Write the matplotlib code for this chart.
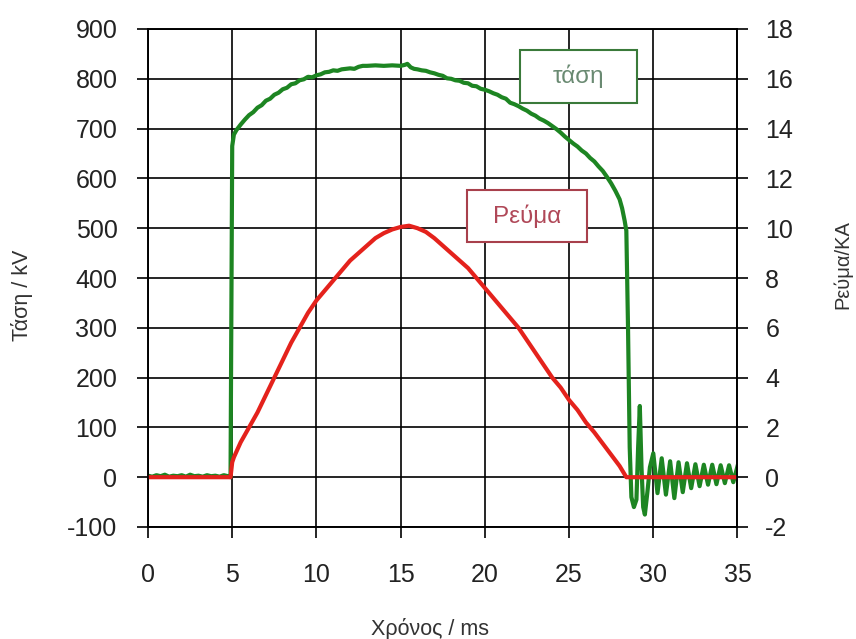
import matplotlib.pyplot as plt
from matplotlib.patches import Rectangle

plt.rcParams['font.family'] = ['Liberation Sans', 'DejaVu Sans']
plt.rcParams['axes.unicode_minus'] = False

# voltage trace, kV
t_v = [0, 0.25, 0.5, 0.75, 1, 1.25, 1.5, 1.75, 2, 2.25, 2.5, 2.75, 3, 3.25, 3.5, 3.75, 4, 4.25, 4.5, 4.75,
       4.9, 4.95, 5.0, 5.1, 5.25, 5.5, 5.75, 6.0, 6.25, 6.5, 6.75, 7.0, 7.25, 7.5, 7.75, 8.0, 8.25, 8.5, 8.75,
       9.0, 9.25, 9.5, 9.75, 10.0, 10.25, 10.5, 10.75, 11.0, 11.25, 11.5, 11.75, 12.0, 12.25, 12.5, 12.75,
       13.0, 13.5, 14.0, 14.5, 15.0, 15.25, 15.4, 15.6, 15.8, 16.0, 16.25, 16.5, 16.75, 17.0, 17.25, 17.5,
       17.75, 18.0, 18.25, 18.5, 18.75, 19.0, 19.25, 19.5, 19.75, 20.0, 20.25, 20.5, 20.75, 21.0, 21.25,
       21.5, 21.75, 22.0, 22.25, 22.5, 22.75, 23.0, 23.25, 23.5, 23.75, 24.0, 24.25, 24.5, 24.75, 25.0,
       25.25, 25.5, 25.75, 26.0, 26.25, 26.5, 26.75, 27.0, 27.25, 27.5, 27.75, 28.0, 28.15, 28.3, 28.4,
       28.5, 28.6, 28.7, 28.85, 29.0, 29.1, 29.2, 29.3, 29.4, 29.5, 29.65, 29.8, 30.0, 30.25, 30.5, 30.75,
       31.0, 31.25, 31.5, 31.75, 32.0, 32.25, 32.5, 32.75, 33.0, 33.25, 33.5, 33.75, 34.0, 34.25, 34.5,
       34.75, 35.0]
v_kv = [3, 1, 4, 2, 5, 1, 3, 2, 4, 1, 5, 2, 3, 1, 4, 2, 3, 1, 4, 2,
        0, 350, 665, 688, 697, 708, 718, 727, 733, 742, 747, 756, 760, 768, 772, 779, 782, 789, 791,
        797, 799, 804, 803, 807, 809, 813, 814, 817, 816, 819, 820, 821, 820, 824, 826,
        826, 827, 826, 827, 826, 828, 830, 823, 820, 819, 817, 816, 813, 811, 808, 806,
        801, 800, 797, 796, 792, 791, 786, 785, 780, 778, 775, 771, 768, 763, 760,
        752, 749, 745, 740, 736, 730, 726, 720, 716, 711, 705, 699, 692, 684, 677,
        670, 664, 656, 650, 641, 634, 624, 615, 603, 590, 575, 558, 540, 515, 495,
        300, 60, -40, -60, -45, 60, 143, 20, -60, -75, -30, 20, 48, -32, 38, -35,
        32, -42, 30, -30, 28, -22, 26, -18, 25, -15, 25, -14, 24, -12, 24,
        -10, 22]

# current trace, kA
t_i = [0, 1, 2, 3, 4, 4.9, 5.0, 5.1, 5.5, 6.0, 6.5, 7.0, 7.5, 8.0, 8.5, 9.0, 9.5, 10.0, 10.5, 11.0,
       11.5, 12.0, 12.5, 13.0, 13.5, 14.0, 14.5, 15.0, 15.5, 16.0, 16.5, 17.0, 17.5, 18.0, 18.5, 19.0,
       19.5, 20.0, 20.5, 21.0, 21.5, 22.0, 22.5, 23.0, 23.5, 24.0, 24.5, 25.0, 25.5, 26.0, 26.5, 27.0,
       27.5, 28.0, 28.4, 30, 32, 35]
i_ka = [0, 0, 0, 0, 0, 0, 0.6, 0.8, 1.4, 2.0, 2.6, 3.3, 4.0, 4.7, 5.4, 6.0, 6.6, 7.1, 7.5, 7.9,
        8.3, 8.7, 9.0, 9.3, 9.6, 9.8, 9.95, 10.05, 10.1, 10.0, 9.85, 9.6, 9.3, 9.0, 8.7, 8.4,
        8.0, 7.6, 7.2, 6.8, 6.4, 6.0, 5.5, 5.0, 4.5, 4.0, 3.6, 3.1, 2.7, 2.2, 1.8, 1.35,
        0.9, 0.45, 0.0, 0, 0, 0]

x_ticks = [0, 5, 10, 15, 20, 25, 30, 35]
v_ticks = [-100, 0, 100, 200, 300, 400, 500, 600, 700, 800, 900]
i_ticks = [-2, 0, 2, 4, 6, 8, 10, 12, 14, 16, 18]

fig = plt.figure(figsize=(8.56, 6.39), dpi=100)
ax = fig.add_axes([148/856, 1-527/639, 589.5/856, 498/639])
ax2 = ax.twinx()

ax.plot(t_v, v_kv, color='#1d8522', lw=3.0)
ax2.plot(t_i, i_ka, color='#e4221c', lw=3.0)

ax.set_xlim(0, 35)
ax.set_ylim(-100, 900)
ax2.set_ylim(-2, 18)
ax.set_xticks(x_ticks)
ax.set_yticks(v_ticks)
ax2.set_yticks(i_ticks)
ax.grid(True, color='black', lw=1.2)

for a in (ax, ax2):
    for s in a.spines.values():
        s.set_linewidth(1.2)
ax.tick_params(axis='both', labelsize=18, width=1.2, length=8, color='black', labelcolor='#222222')
ax.tick_params(axis='y', pad=14)
ax.tick_params(axis='x', pad=18)
ax2.tick_params(axis='y', labelsize=18, width=1.2, length=8, pad=12, labelcolor='#222222')

ax.set_xlabel('Χρόνος / ms', fontsize=15.5, color='#333333')
ax.xaxis.set_label_coords(0.478, -0.183)
ax.set_ylabel('Τάση / kV', fontsize=15.5, color='#333333')
ax.yaxis.set_label_coords(-0.195, 0.466)
ax2.set_ylabel('Ρεύμα/ΚΑ', fontsize=14.5, color='#333333')
ax2.yaxis.set_label_coords(1.162, 0.526)

# label boxes
fig.add_artist(Rectangle((0.6075, 0.8388), 0.1367, 0.0829, transform=fig.transFigure,
                         fc='white', ec='#3a7a3a', lw=1.5, zorder=5))
fig.text(0.6758, 0.8803, 'τάση', ha='center', va='center', fontsize=17.5, color='#6a8a72', zorder=6)
fig.add_artist(Rectangle((0.5456, 0.6213), 0.1402, 0.0814, transform=fig.transFigure,
                         fc='white', ec='#a8404c', lw=1.5, zorder=5))
fig.text(0.6157, 0.662, 'Ρεύμα', ha='center', va='center', fontsize=17.5, color='#b04858', zorder=6)

fig.savefig('out.png', dpi=100)
